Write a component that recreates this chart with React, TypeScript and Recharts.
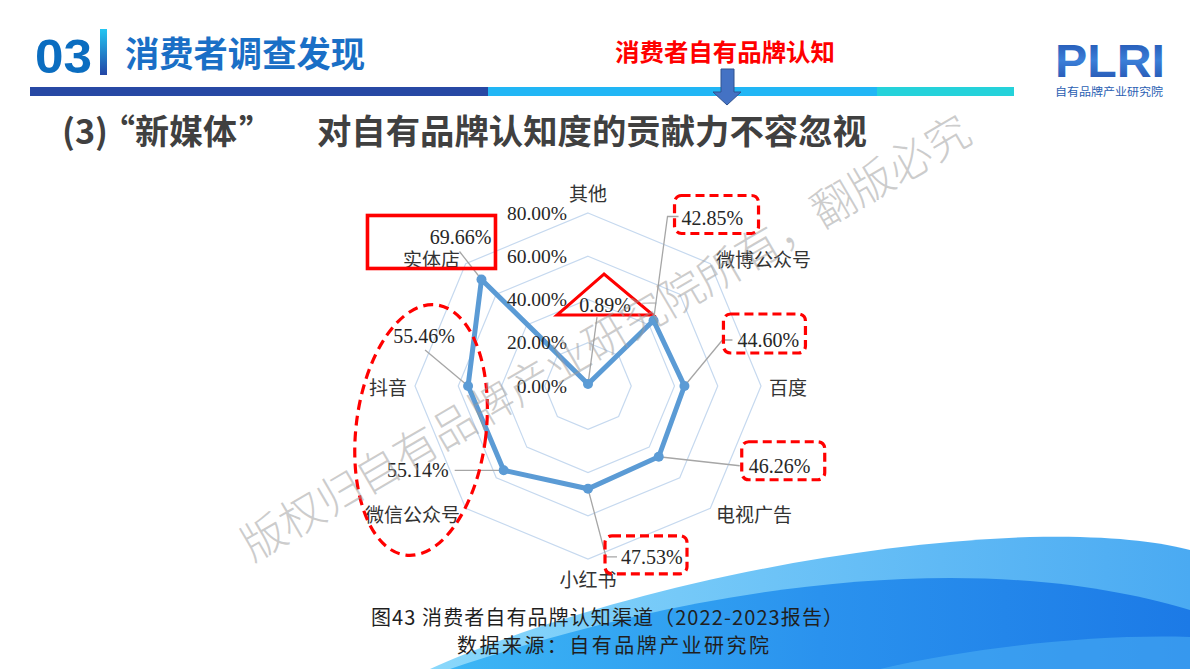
import { RadarChart, PolarGrid, PolarAngleAxis, PolarRadiusAxis, Radar } from 'recharts'

// 消费者自有品牌认知渠道（2022-2023报告）
const channels = ['其他', '微博公众号', '百度', '电视广告', '小红书', '微信公众号', '抖音', '实体店']
const shares = [0.89, 42.85, 44.6, 46.26, 47.53, 55.14, 55.46, 69.66]
const radiusTicks = [0, 20, 40, 60, 80]

const data = channels.map((name, i) => ({ name, share: shares[i] }))

// callout layout, offsets relative to each data point
type Pt = [number, number]
type Callout = {
  leader: Pt[]
  text: Pt
  anchor: 'start' | 'middle' | 'end'
  box?: { x: number; y: number; w: number; h: number; dashed: boolean }
  tri?: Pt[]
  ellipse?: { x: number; y: number; rx: number; ry: number; rot: number }
}
const callouts: Callout[] = [
  { leader: [[9, -67]], text: [17, -79], anchor: 'middle', tri: [[16, -110], [-31, -69], [65, -69]] },
  { leader: [[14, -104], [25, -104]], text: [28, -102], anchor: 'start', box: { x: 21, y: -125, w: 84, h: 38, dashed: true } },
  { leader: [[38, -46], [48, -46]], text: [53, -46], anchor: 'start', box: { x: 39, y: -72, w: 82, h: 39, dashed: true } },
  { leader: [[81, 9]], text: [90, 9], anchor: 'start', box: { x: 83, y: -15, w: 83, h: 38, dashed: true } },
  { leader: [[18, 68], [29, 68]], text: [33, 68], anchor: 'start', box: { x: 17, y: 47, w: 82, h: 38, dashed: true } },
  { leader: [[-49, 0]], text: [-55, 0], anchor: 'end' },
  { leader: [[-43, -36]], text: [-44, -50], anchor: 'middle', ellipse: { x: -47, y: 44, rx: 65, ry: 126, rot: 7 } },
  { leader: [[-22, -28]], text: [10, -42], anchor: 'end', box: { x: -114, y: -64, w: 128, h: 53, dashed: false } },
]

const BLUE = '#5b9bd5'
const RED = '#ff0000'
const SERIF = '"Liberation Serif", "Noto Sans CJK SC", serif'
const CJK = '"Noto Sans CJK SC", "Noto Sans", sans-serif'

function renderDot(props: any) {
  const { cx, cy, index } = props
  const c = callouts[index]
  const v = shares[index]
  const pts = [[cx, cy], ...c.leader.map(([dx, dy]) => [cx + dx, cy + dy])]
  return (
    <g key={`dot-${index}`}>
      <polyline points={pts.map((p) => p.join(',')).join(' ')} fill="none" stroke="#a6a6a6" strokeWidth={1.3} />
      <circle cx={cx} cy={cy} r={5} fill={BLUE} />
      <text x={cx + c.text[0]} y={cy + c.text[1]} textAnchor={c.anchor} dominantBaseline="central"
        fontFamily={SERIF} fontSize={20} fill="#262626">{v.toFixed(2)}%</text>
      {c.box && (
        <rect x={cx + c.box.x} y={cy + c.box.y} width={c.box.w} height={c.box.h} rx={c.box.dashed ? 7 : 0}
          fill="none" stroke={RED} strokeWidth={c.box.dashed ? 3.2 : 3.6} strokeDasharray={c.box.dashed ? '9 5' : undefined} />
      )}
      {c.tri && (
        <polygon points={c.tri.map(([dx, dy]) => `${cx + dx},${cy + dy}`).join(' ')} fill="none" stroke={RED} strokeWidth={3} />
      )}
      {c.ellipse && (
        <ellipse cx={cx + c.ellipse.x} cy={cy + c.ellipse.y} rx={c.ellipse.rx} ry={c.ellipse.ry}
          transform={`rotate(${c.ellipse.rot} ${cx + c.ellipse.x} ${cy + c.ellipse.y})`}
          fill="none" stroke={RED} strokeWidth={3.2} strokeDasharray="10 6" />
      )}
    </g>
  )
}

function AngleTick(props: any) {
  const { x, y, textAnchor, payload } = props
  const coord = Math.round(payload.coordinate)
  const dy = coord === 90 ? -13 : coord === -90 || coord === 270 ? 11 : 0
  return (
    <text x={x} y={y + dy} textAnchor={textAnchor} dominantBaseline="central" fontFamily={CJK} fontSize={19} fill="#333">
      {payload.value}
    </text>
  )
}

function RadiusTick(props: any) {
  const { x, y, payload } = props
  return (
    <text x={x - 21} y={y} textAnchor="end" dominantBaseline="central" fontFamily={SERIF} fontSize={19.5} fill="#262626">
      {Number(payload.value).toFixed(2)}%
    </text>
  )
}

export default function App() {
  return (
    <div style={{ position: 'absolute', left: 0, top: 0, width: 1190, height: 669, background: '#fff', overflow: 'hidden' }}>
      <svg width={1190} height={669} style={{ position: 'absolute', left: 0, top: 0 }}>
        <defs>
          <linearGradient id="waveA" x1="0" y1="0" x2="1" y2="0">
            <stop offset="0" stopColor="#8ad8fb" />
            <stop offset="1" stopColor="#4aaaf2" />
          </linearGradient>
          <linearGradient id="waveB" x1="0" y1="0" x2="1" y2="0">
            <stop offset="0" stopColor="#3cb6f5" />
            <stop offset="0.5" stopColor="#2a92ee" />
            <stop offset="1" stopColor="#1c7ae6" />
          </linearGradient>
        </defs>
        <path d="M 430 669 C 560 610, 800 545, 1030 537 C 1110 535, 1160 542, 1190 550 L 1190 669 Z" fill="url(#waveA)" />
        <path d="M 450 669 C 600 618, 780 578, 950 578 C 1060 578, 1140 595, 1190 610 L 1190 669 Z" fill="url(#waveB)" />
        <path d="M 880 669 C 980 646, 1100 634, 1190 637 L 1190 669 Z" fill="#4cb0f4" fillOpacity={0.55} />
      </svg>

      <div style={{ position: 'absolute', left: 0, top: 0 }}>
        <RadarChart width={1190} height={669} data={data} cx={588} cy={386} outerRadius={173}
          margin={{ top: 0, right: 0, bottom: 0, left: 0 }}>
          <PolarGrid radialLines={false} stroke="#c6d9ef" strokeWidth={1.2} />
          <PolarAngleAxis dataKey="name" tickLine={false} axisLine={false} tick={(p: any) => <AngleTick {...p} />} />
          <PolarRadiusAxis angle={90} domain={[0, 80]} ticks={radiusTicks as any} tickCount={5} axisLine={false}
            tickLine={false} tick={(p: any) => <RadiusTick {...p} />} />
          <Radar dataKey="share" stroke={BLUE} strokeWidth={5} fill="none" fillOpacity={0}
            dot={renderDot as any} isAnimationActive={false} />
        </RadarChart>
      </div>

      <svg width={1190} height={669} style={{ position: 'absolute', left: 0, top: 0, pointerEvents: 'none' }}>
        <defs>
          <linearGradient id="vbar" x1="0" y1="0" x2="0" y2="1">
            <stop offset="0" stopColor="#24c6f2" />
            <stop offset="1" stopColor="#2446a6" />
          </linearGradient>
          <linearGradient id="logo" x1="0" y1="0" x2="0" y2="1">
            <stop offset="0" stopColor="#1d4aa8" />
            <stop offset="0.5" stopColor="#3b7fd8" />
            <stop offset="1" stopColor="#1f4aa8" />
          </linearGradient>
        </defs>
        {/* header */}
        <text x={35} y={73} fontFamily='"Liberation Sans", Arial, sans-serif' fontWeight={900} fontSize={49}
          fill="#0b6dc0" textLength={57} lengthAdjust="spacingAndGlyphs">03</text>
        <rect x={100} y={29} width={7} height={46} fill="url(#vbar)" />
        <text x={125} y={67} fontFamily={CJK} fontWeight={700} fontSize={35} fill="#1a6fc6"
          textLength={240} lengthAdjust="spacingAndGlyphs">消费者调查发现</text>
        <rect x={30} y={87} width={458} height={9} fill="#2748a4" />
        <rect x={488} y={87} width={389} height={9} fill="#21b6f5" />
        <rect x={877} y={87} width={137} height={9} fill="#25d2da" />
        <text x={615} y={61} fontFamily={CJK} fontWeight={700} fontSize={24} fill={RED}
          textLength={220} lengthAdjust="spacingAndGlyphs">消费者自有品牌认知</text>
        <polygon points="721,69 734,69 734,92 741,92 727,105 713,92 721,92" fill="#4472c4" stroke="#2f528f" strokeWidth={1} />
        {/* logo */}
        <text x={1055} y={77} fontFamily='"Liberation Sans", Arial, sans-serif' fontWeight={900} fontSize={47}
          fill="url(#logo)" textLength={110} lengthAdjust="spacingAndGlyphs">PLRI</text>
        <text x={1055} y={96} fontFamily={CJK} fontSize={11.5} fill="#2c5fb3"
          textLength={108} lengthAdjust="spacingAndGlyphs">自有品牌产业研究院</text>
        {/* subtitle */}
        <g fontFamily={CJK} fontWeight={700} fontSize={34} fill="#404040">
          <text x={62} y={144} textLength={46} lengthAdjust="spacingAndGlyphs">(3)</text>
          <text x={135} y={144} textAnchor="end">“</text>
          <text x={135} y={144} textLength={102} lengthAdjust="spacingAndGlyphs">新媒体</text>
          <text x={239} y={144}>”</text>
          <text x={317} y={144} textLength={550} lengthAdjust="spacingAndGlyphs">对自有品牌认知度的贡献力不容忽视</text>
        </g>
        {/* caption */}
        <g fontFamily={CJK} fontSize={20} fill="#1f1f1f">
          <text x={371} y={625} textLength={472} lengthAdjust="spacing">图43 消费者自有品牌认知渠道（2022-2023报告）</text>
          <text x={457} y={653} textLength={312} lengthAdjust="spacing">数据来源：自有品牌产业研究院</text>
        </g>
        {/* watermark */}
        <text x={604} y={335} textAnchor="middle" dominantBaseline="central" transform="rotate(-30.3 604 335)"
          fontFamily={CJK} fontWeight={300} fontSize={44} fill="#9a9a9a" fillOpacity={0.5}
          textLength={836} lengthAdjust="spacing">版权归自有品牌产业研究院所有，翻版必究</text>
      </svg>
    </div>
  )
}
